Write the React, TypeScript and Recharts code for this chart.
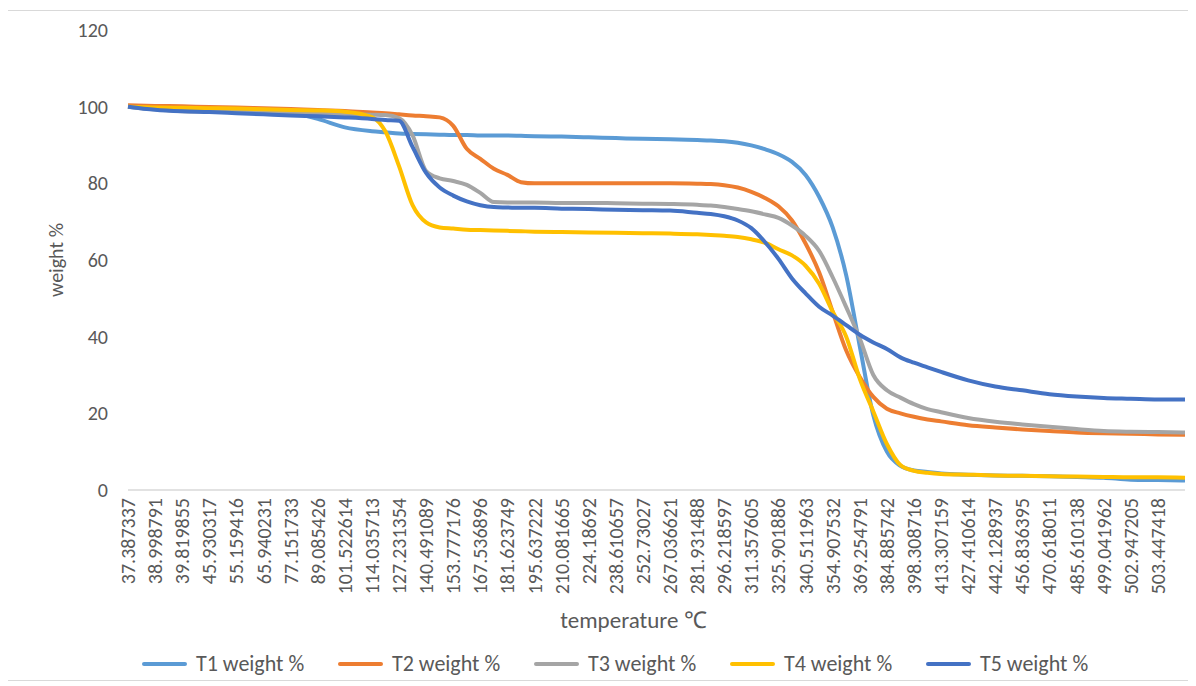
import { LineChart, Line, XAxis, YAxis, Legend, Label } from 'recharts';

// category labels on the x axis (temperature, °C)
const tempLabels = [
  '37.387337', '38.998791', '39.819855', '45.930317', '55.159416', '65.940231',
  '77.151733', '89.085426', '101.522614', '114.035713', '127.231354', '140.491089',
  '153.777176', '167.536896', '181.623749', '195.637222', '210.081665', '224.18692',
  '238.610657', '252.73027', '267.036621', '281.931488', '296.218597', '311.357605',
  '325.901886', '340.511963', '354.907532', '369.254791', '384.885742', '398.308716',
  '413.307159', '427.410614', '442.128937', '456.836395', '470.618011', '485.610138',
  '499.041962', '502.947205', '503.447418',
];

// sample positions, in label-index units
const xPos = [
  0, 1, 2, 3, 4, 5, 6, 7, 8, 9,
  9.5, 10, 10.5, 11, 11.5, 12, 12.5, 13, 13.5, 14, 14.5, 15,
  16, 17, 18, 19, 20, 21,
  21.5, 22, 22.5, 23, 23.5, 24, 24.5, 25, 25.5, 26, 26.5, 27, 27.5, 28, 28.5, 29, 29.5, 30,
  31, 32, 33, 34, 35, 36, 37, 38, 39,
];

const t1 = [
  100, 99.4, 99.1, 98.9, 98.7, 98.5, 98.3, 96.8, 94.6, 93.6,
  93.3, 93.0, 92.9, 92.8, 92.7, 92.6, 92.6, 92.5, 92.5, 92.5, 92.4, 92.3,
  92.2, 92.0, 91.8, 91.6, 91.5, 91.3,
  91.2, 91.0, 90.6, 89.9, 88.9, 87.6, 85.6, 82.2, 76.5, 68.5, 56, 37.5, 19.5, 10, 6.3, 5.1, 4.7, 4.3,
  4.0, 3.8, 3.7, 3.6, 3.4, 3.2, 2.7, 2.6, 2.5,
];
const t2 = [
  100.4, 100.2, 100.1, 99.9, 99.8, 99.6, 99.4, 99.1, 98.9, 98.5,
  98.3, 98.0, 97.7, 97.5, 97.2, 95.0, 89.0, 86.4, 83.8, 82.2, 80.3, 80.0,
  80.0, 80.0, 80.0, 80.0, 80.0, 79.9,
  79.8, 79.5, 78.9, 77.8, 76.2, 74.0, 70.3, 64.3, 56.8, 46.5, 36.4, 29.5, 24.3, 21.2, 20.0, 19.1, 18.4, 17.9,
  16.9, 16.3, 15.8, 15.4, 15.0, 14.8, 14.7, 14.5, 14.4,
];
const t3 = [
  100, 99.3, 98.8, 98.7, 98.6, 98.5, 98.3, 98.2, 98.0, 97.9,
  97.8, 97.0, 92.5, 83.2, 81.3, 80.6, 79.6, 77.5, 75.1, 75.0, 75.0, 75.0,
  74.9, 74.9, 74.8, 74.7, 74.6, 74.4,
  74.2, 73.8, 73.3, 72.7, 71.9, 71.0, 69.0, 66.3, 62.4, 55.5, 47.7, 39.5, 30.0, 26.0, 24.1, 22.4, 21.1, 20.3,
  18.8, 17.8, 17.1, 16.5, 15.9, 15.4, 15.2, 15.1, 15.0,
];
const t4 = [
  100, 99.8, 99.7, 99.6, 99.5, 99.3, 99.1, 99.0, 98.7, 97.3,
  93.5, 84.5, 74.3, 69.8, 68.5, 68.2, 67.9, 67.8, 67.7, 67.6, 67.5, 67.4,
  67.3, 67.2, 67.1, 67.0, 66.9, 66.7,
  66.5, 66.3, 66.0, 65.4, 64.5, 62.8, 61.2, 58.5, 53.8, 46.5, 40.0, 29.0, 20.5, 12.0, 6.5, 5.0, 4.5, 4.2,
  4.0, 3.8, 3.7, 3.6, 3.5, 3.4, 3.3, 3.3, 3.2,
];
const t5 = [
  100, 99.2, 98.8, 98.6, 98.3, 98.0, 97.7, 97.5, 97.2, 96.8,
  96.5, 96.3, 89.5, 82.7, 78.9, 76.8, 75.3, 74.3, 73.8, 73.7, 73.6, 73.6,
  73.4, 73.3, 73.1, 73.0, 72.9, 72.3,
  72.0, 71.4, 70.3, 68.3, 64.7, 60.3, 55.2, 51.3, 47.8, 45.5, 43.0, 40.5, 38.5, 36.8, 34.6, 33.2, 32.0, 30.8,
  28.6, 27.0, 26.0, 25.0, 24.4, 24.0, 23.8, 23.6, 23.6,
];

const yTicks = [0, 20, 40, 60, 80, 100, 120];

const series = [
  { key: 't1', name: 'T1 weight %', color: '#5B9BD5', values: t1 },
  { key: 't2', name: 'T2 weight %', color: '#ED7D31', values: t2 },
  { key: 't3', name: 'T3 weight %', color: '#A5A5A5', values: t3 },
  { key: 't4', name: 'T4 weight %', color: '#FFC000', values: t4 },
  { key: 't5', name: 'T5 weight %', color: '#4472C4', values: t5 },
];

const chartData = xPos.map((x, i) => {
  const row: Record<string, number> = { x };
  series.forEach(s => { row[s.key] = s.values[i]; });
  return row;
});

const FONT = 'Carlito, Calibri, "Liberation Sans", Arial, sans-serif';
const TEXT = '#595959';

const XTick = ({ x, y, payload }: any) => (
  <text
    transform={`translate(${x},${y}) rotate(-90)`}
    textAnchor="end"
    dominantBaseline="central"
    fontSize={20}
    fontFamily={FONT}
    fill={TEXT}
  >
    {tempLabels[payload.value]}
  </text>
);

const LegendBox = () => (
  <div style={{ display: 'flex', paddingLeft: 134, paddingTop: 10, fontFamily: FONT }}>
    {series.map(s => (
      <div key={s.key} style={{ width: 196, display: 'flex', alignItems: 'center' }}>
        <span style={{ width: 45, height: 4, background: s.color, borderRadius: 2, marginRight: 9 }} />
        <span style={{ fontSize: 22, color: TEXT, whiteSpace: 'nowrap' }}>{s.name}</span>
      </div>
    ))}
  </div>
);

export default function App() {
  return (
    <div
      style={{
        width: 1186,
        height: 669,
        border: '1px solid #d9d9d9',
        marginLeft: -1,
        marginTop: 2,
        background: '#fff',
      }}
    >
      <LineChart
        width={1186}
        height={669}
        data={chartData}
        margin={{ top: 19, right: 9, left: 0, bottom: 0 }}
      >
        <XAxis
          dataKey="x"
          type="number"
          domain={[0, 39]}
          ticks={tempLabels.map((_, i) => i)}
          interval={0}
          tick={<XTick />}
          tickLine={false}
          axisLine={{ stroke: '#d9d9d9', strokeWidth: 1.5 }}
          height={150}
        >
          <Label
            position="insideBottom"
            content={({ viewBox }: any) => (
              <text
                x={viewBox.x + viewBox.width / 2 - 23}
                y={viewBox.y + viewBox.height - 12}
                textAnchor="middle"
                fontSize={23}
                fontFamily={FONT}
                fill={TEXT}
              >
                temperature ℃
              </text>
            )}
          />
        </XAxis>
        <YAxis
          domain={[0, 120]}
          ticks={yTicks}
          width={120}
          axisLine={false}
          tickLine={false}
          tickMargin={14}
          tick={{ fontSize: 20, fill: TEXT, fontFamily: FONT }}
        >
          <Label
            value="weight %"
            angle={-90}
            position="insideLeft"
            offset={48}
            style={{ textAnchor: 'middle', fontSize: 20, fill: TEXT, fontFamily: FONT }}
          />
        </YAxis>
        <Legend
          verticalAlign="bottom"
          height={40}
          wrapperStyle={{ left: 0, width: 1186 }}
          content={() => <LegendBox />}
        />
        {series.map(s => (
          <Line
            key={s.key}
            type="monotone"
            dataKey={s.key}
            name={s.name}
            stroke={s.color}
            strokeWidth={4}
            dot={false}
            activeDot={false}
            isAnimationActive={false}
          />
        ))}
      </LineChart>
    </div>
  );
}
